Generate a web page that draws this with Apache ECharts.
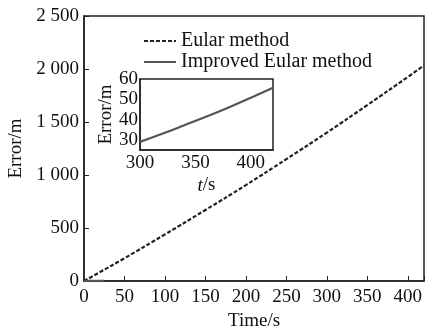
<!DOCTYPE html>
<html><head><meta charset="utf-8">
<script src="https://cdn.jsdelivr.net/npm/echarts@6/dist/echarts.min.js"></script>
<style>html,body{margin:0;padding:0;background:#fff}#c{width:427px;height:329px}</style>
</head><body><div id="c"></div>
<script>
var eulerT = [0, 50, 100, 150, 200, 250, 300, 350, 400, 420];
var eulerErr = [0, 215, 440, 670, 905, 1150, 1400, 1660, 1925, 2035];
var improvedMainT = [0, 10, 25];
var improvedMainErr = [0, 0.5, 1];
var insetT = [300, 320, 340, 360, 380, 400, 420];
var insetErr = [29, 33, 37.2, 41.5, 46, 50.8, 55.7];
var mainXTicks = [0, 50, 100, 150, 200, 250, 300, 350, 400];
var mainYTicks = [0, 500, 1000, 1500, 2000, 2500];
var insetYTicks = [30, 40, 50, 60];

function pairs(a, b) { return a.map(function (v, i) { return [v, b[i]]; }); }
var font = 'Liberation Serif';
var chart = echarts.init(document.getElementById('c'));
chart.setOption({
  animation: false,
  textStyle: { fontFamily: font },
  legend: {
    orient: 'vertical', left: 138, top: 26, itemGap: 1,
    itemWidth: 32, itemHeight: 12,
    itemStyle: { color: 'rgba(0,0,0,0)', borderWidth: 0, opacity: 0 },
    textStyle: { fontFamily: font, fontSize: 20, color: '#111', padding: [0, 0, 0, 0] },
    data: ['Eular method', 'Improved Eular method']
  },
  grid: [
    { left: 84, right: 3, top: 16, bottom: 48, show: true, borderColor: '#222', borderWidth: 1.5,
      outerBoundsMode: 'none', containLabel: false },
    { left: 140, right: 154, top: 79, bottom: 179, show: true, borderColor: '#222', borderWidth: 1.5,
      backgroundColor: '#fff', z: 5, outerBoundsMode: 'none', containLabel: false }
  ],
  xAxis: [
    { gridIndex: 0, type: 'value', min: 0, max: 420, interval: 50,
      name: 'Time/s', nameLocation: 'middle', nameGap: 29,
      nameTextStyle: { fontFamily: font, fontSize: 19, color: '#111' },
      axisLine: { lineStyle: { color: '#222', width: 1.5 } },
      axisTick: { inside: true, length: 5, lineStyle: { color: '#222' } },
      axisLabel: { fontFamily: font, fontSize: 19, color: '#111', margin: 7,
        formatter: function (v) { return mainXTicks.indexOf(v) >= 0 ? String(v) : ''; } },
      splitLine: { show: false } },
    { gridIndex: 1, type: 'value', min: 300, max: 420, interval: 50,
      name: '{i|t}/s', nameLocation: 'middle', nameGap: 26,
      nameTextStyle: { fontFamily: font, fontSize: 19, color: '#111',
        rich: { i: { fontFamily: font, fontStyle: 'italic', fontSize: 19, color: '#111' } } },
      axisLine: { lineStyle: { color: '#222', width: 1.5 } },
      axisTick: { show: false },
      axisLabel: { fontFamily: font, fontSize: 19, color: '#111', margin: 4,
        formatter: function (v) { return v <= 400 ? String(v) : ''; } },
      splitLine: { show: false }, z: 6 }
  ],
  yAxis: [
    { gridIndex: 0, type: 'value', min: 0, max: 2500, interval: 500,
      name: 'Error/m', nameLocation: 'middle', nameGap: 57,
      nameTextStyle: { fontFamily: font, fontSize: 19, color: '#111' },
      axisLine: { show: true, lineStyle: { color: '#222', width: 1.5 } },
      axisTick: { show: true, inside: true, length: 5, lineStyle: { color: '#222' } },
      axisLabel: { fontFamily: font, fontSize: 19, color: '#111', margin: 5,
        formatter: function (v) { return v >= 1000 ? Math.floor(v / 1000) + ' ' + String(v % 1000).padStart(3, '0') : String(v); } },
      splitLine: { show: false } },
    { gridIndex: 1, type: 'value', min: 25, max: 60, interval: 5,
      name: 'Error/m', nameLocation: 'middle', nameGap: 23,
      nameTextStyle: { fontFamily: font, fontSize: 19, color: '#111' },
      axisLine: { show: true, lineStyle: { color: '#222', width: 1.5 } },
      axisTick: { show: false },
      axisLabel: { fontFamily: font, fontSize: 19, color: '#111', margin: 2,
        formatter: function (v) { return insetYTicks.indexOf(v) >= 0 ? String(v) : ''; } },
      splitLine: { show: false }, z: 6 }
  ],
  series: [
    { name: 'Eular method', type: 'line', xAxisIndex: 0, yAxisIndex: 0, symbol: 'none', smooth: true,
      data: pairs(eulerT, eulerErr), itemStyle: { color: '#222' },
      lineStyle: { color: '#222', width: 2.2, type: [4, 2] } },
    { name: 'Improved Eular method', type: 'line', xAxisIndex: 0, yAxisIndex: 0, symbol: 'none',
      data: pairs(improvedMainT, improvedMainErr), itemStyle: { color: '#555' },
      lineStyle: { color: '#555', width: 2.5 } },
    { name: 'Improved Eular method', type: 'line', xAxisIndex: 1, yAxisIndex: 1, symbol: 'none', smooth: true,
      data: pairs(insetT, insetErr), itemStyle: { color: '#555' }, z: 7,
      lineStyle: { color: '#555', width: 2.2 } }
  ]
});
</script></body></html>
